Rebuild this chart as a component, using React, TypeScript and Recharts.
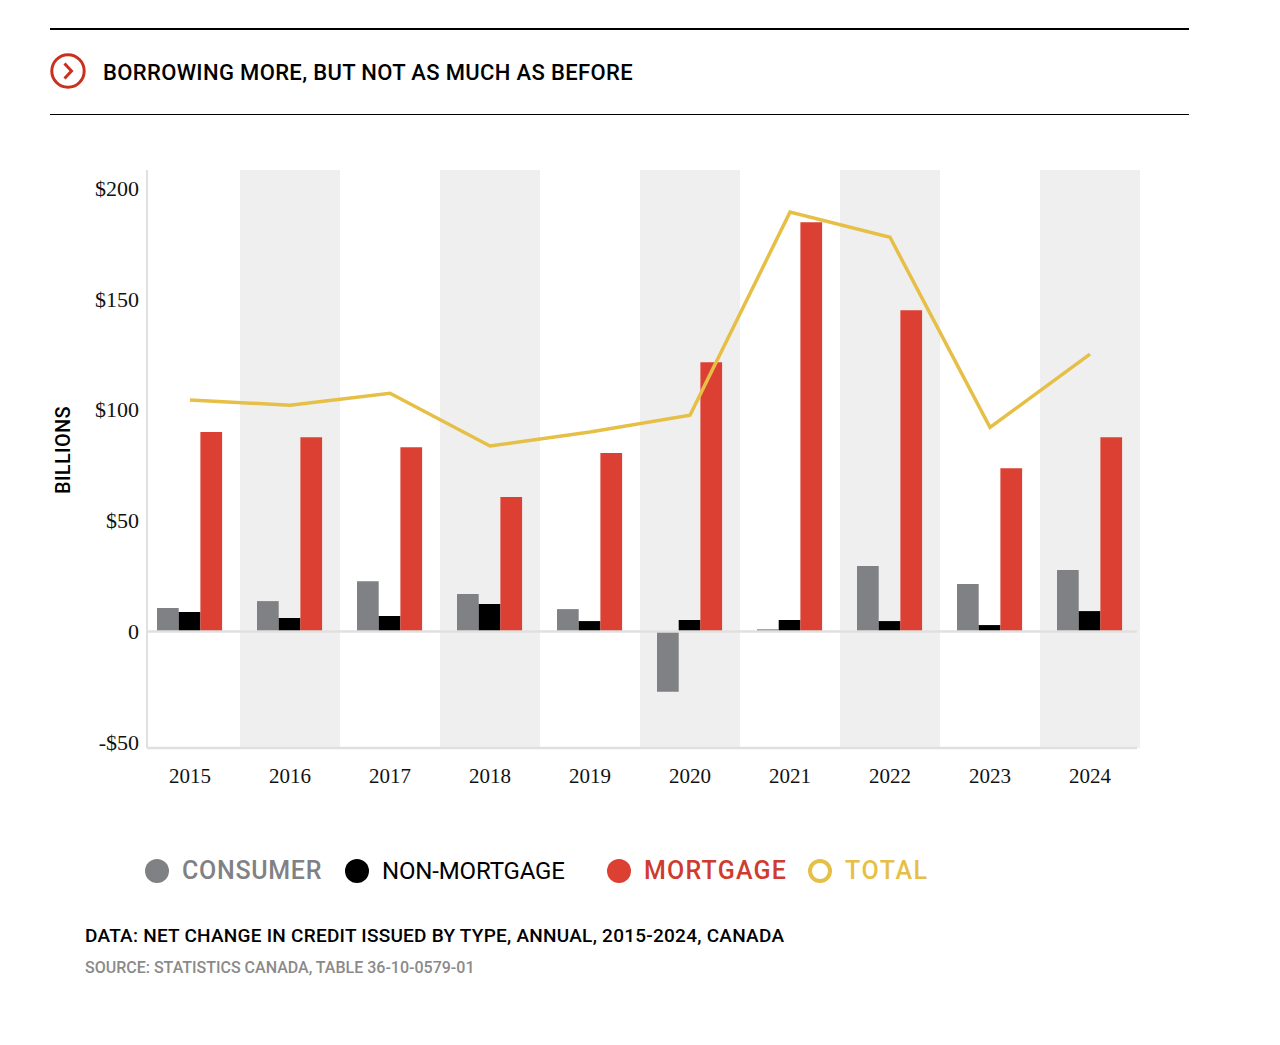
import { ComposedChart, Bar, Line, XAxis, YAxis, ReferenceArea, ReferenceLine } from 'recharts';

const years = ['2015', '2016', '2017', '2018', '2019', '2020', '2021', '2022', '2023', '2024'];
const consumer = [10.6, 13.7, 22.7, 16.9, 10.1, -27.2, 1, 29.5, 21.4, 27.7];
const nonMortgage = [8.8, 6.1, 7, 12.4, 4.7, 5.2, 5.2, 4.7, 2.9, 9.2];
const mortgage = [89.9, 87.6, 83.1, 60.6, 80.4, 121.4, 184.5, 144.8, 73.6, 87.6];
const total = [104.3, 102, 107.4, 83.6, 89.9, 97.5, 189, 177.7, 92, 125];
const shadedYears = ['2016', '2018', '2020', '2022', '2024'];
const yTicks = [-50, 0, 50, 100, 150, 200];

const GREY = '#808184';
const RED = '#dc4032';
const GOLD = '#e6bf47';
const AXIS = '#e0e0e0';
const SANS = 'Roboto, sans-serif';
const SERIF = '"Liberation Serif", serif';

const data = years.map((year, i) => ({
  year,
  consumer: consumer[i],
  nonMortgage: nonMortgage[i],
  mortgage: mortgage[i],
  total: total[i],
}));

const legendItems = [
  { label: 'CONSUMER', color: GREY, text: GREY, left: 145, size: 25, spacing: 0.7, weight: 500 },
  { label: 'NON-MORTGAGE', color: '#000', text: '#000', left: 345, size: 24, spacing: -0.15, weight: 400 },
  { label: 'MORTGAGE', color: RED, text: '#cf3b2e', left: 607, size: 25, spacing: 1.2, weight: 500 },
  { label: 'TOTAL', color: GOLD, text: GOLD, left: 808, size: 25, spacing: 1.6, weight: 500, hollow: true },
];

const formatTick = (v: number) => (v === 0 ? '0' : v < 0 ? `-$${-v}` : `$${v}`);

export default function App() {
  return (
    <div style={{ position: 'absolute', left: 0, top: 0, width: 1280, height: 1045, background: '#fff', fontFamily: SANS }}>
      <div style={{ position: 'absolute', left: 50, top: 28, width: 1139, borderTop: '2px solid #000' }} />
      <svg style={{ position: 'absolute', left: 50, top: 53 }} width={36} height={36}>
        <circle cx={18} cy={18} r={16.2} fill="none" stroke="#c9301f" strokeWidth={3} />
        <path d="M14.5 10.5 L21.5 18 L14.5 25.5" fill="none" stroke="#c9301f" strokeWidth={3} />
      </svg>
      <div style={{ position: 'absolute', left: 103, top: 60, fontSize: 22, lineHeight: '26px', fontWeight: 500, letterSpacing: 0.35, color: '#000', whiteSpace: 'nowrap' }}>
        BORROWING MORE, BUT NOT AS MUCH AS BEFORE
      </div>
      <div style={{ position: 'absolute', left: 50, top: 114, width: 1139, borderTop: '1px solid #000' }} />

      <div style={{ position: 'absolute', left: 0, top: 0 }}>
        <ComposedChart
          width={1280}
          height={800}
          data={data}
          barSize={21.7}
          barGap={0}
          margin={{ top: 170, right: 143, bottom: 12, left: 87 }}
        >
          {shadedYears.map((y) => (
            <ReferenceArea key={y} x1={y} x2={y} fill="#efefef" fillOpacity={1} stroke="none" ifOverflow="visible" />
          ))}
          <XAxis
            dataKey="year"
            height={40}
            padding={{ left: -7, right: -3 }}
            axisLine={{ stroke: AXIS, strokeWidth: 2.5 }}
            tickLine={false}
            tickMargin={14}
            tick={{ fill: '#111', fontFamily: SERIF, fontSize: 21 }}
            interval={0}
          />
          <YAxis
            width={60}
            domain={[-52.5, 208]}
            ticks={yTicks}
            allowDataOverflow
            tickFormatter={formatTick}
            axisLine={{ stroke: AXIS, strokeWidth: 2 }}
            tickLine={false}
            tickSize={0}
            tickMargin={8}
            tick={{ fill: '#111', fontFamily: SERIF, fontSize: 22 }}
            label={{
              value: 'BILLIONS',
              angle: -90,
              position: 'left',
              offset: 24,
              dy: -9,
              style: { fontFamily: SANS, fontSize: 20, fontWeight: 500, letterSpacing: 0.3, fill: '#000', textAnchor: 'middle' },
            }}
          />
          <ReferenceLine y={0} stroke={AXIS} strokeWidth={2.5} />
          <Bar dataKey="consumer" fill={GREY} isAnimationActive={false} />
          <Bar dataKey="nonMortgage" fill="#000" isAnimationActive={false} />
          <Bar dataKey="mortgage" fill={RED} isAnimationActive={false} />
          <Line
            dataKey="total"
            type="linear"
            stroke={GOLD}
            strokeWidth={3.5}
            dot={false}
            activeDot={false}
            isAnimationActive={false}
          />
        </ComposedChart>
      </div>

      {legendItems.map((item) => (
        <div key={item.label}>
          <div
            style={{
              position: 'absolute',
              left: item.left,
              top: 859,
              width: 24,
              height: 24,
              boxSizing: 'border-box',
              borderRadius: '50%',
              background: item.hollow ? 'transparent' : item.color,
              border: item.hollow ? `4px solid ${item.color}` : 'none',
            }}
          />
          <div
            style={{
              position: 'absolute',
              left: item.left + 37,
              top: 856,
              fontSize: item.size,
              lineHeight: '30px',
              fontWeight: item.weight,
              letterSpacing: item.spacing,
              color: item.text,
              whiteSpace: 'nowrap',
            }}
          >
            {item.label}
          </div>
        </div>
      ))}

      <div style={{ position: 'absolute', left: 85, top: 925, fontSize: 19, lineHeight: '22px', fontWeight: 500, letterSpacing: 0.25, color: '#000', whiteSpace: 'nowrap' }}>
        DATA: NET CHANGE IN CREDIT ISSUED BY TYPE, ANNUAL, 2015-2024, CANADA
      </div>
      <div style={{ position: 'absolute', left: 85, top: 958, fontSize: 16, lineHeight: '20px', fontWeight: 500, color: '#8a8a8a', whiteSpace: 'nowrap' }}>
        SOURCE: STATISTICS CANADA, TABLE 36-10-0579-01
      </div>
    </div>
  );
}
